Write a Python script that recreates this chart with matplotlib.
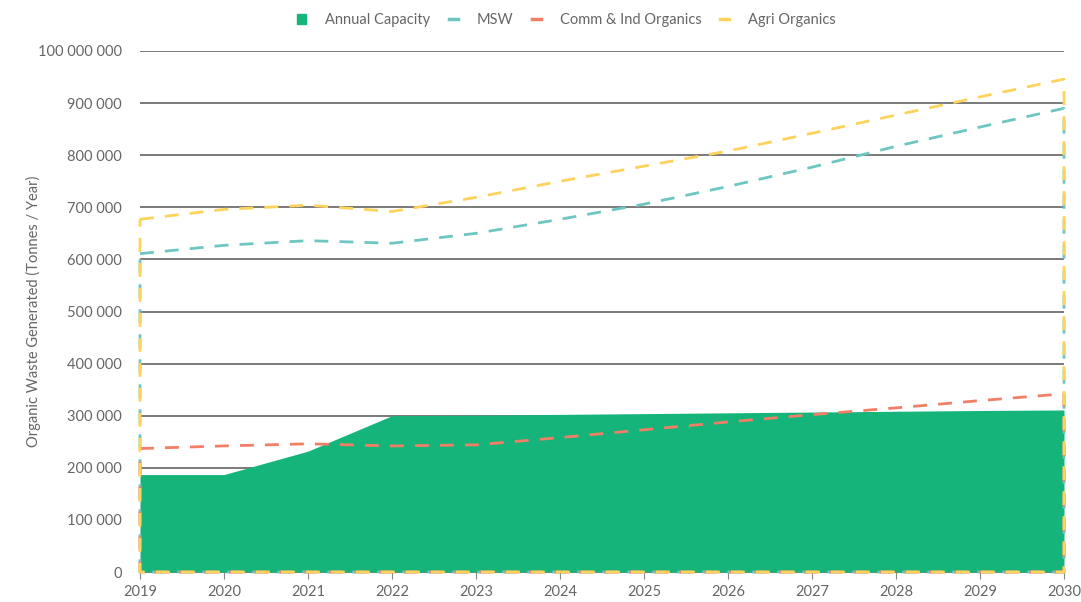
import matplotlib.pyplot as plt
from matplotlib.lines import Line2D
from matplotlib.patches import Patch

plt.rcParams['font.family'] = ['Lato', 'DejaVu Sans']

years = [2019, 2020, 2021, 2022, 2023, 2024, 2025, 2026, 2027, 2028, 2029, 2030]

# annual processing capacity (tonnes)
capacity = [187000, 187000, 232000, 300000, 301000, 302500, 304000, 305500,
            307000, 308500, 310000, 311000]
msw = [611000, 627000, 636000, 631000, 650000, 677000, 706000, 740000,
       777000, 817000, 854000, 890000]
comm_ind = [237000, 242000, 246000, 242000, 244000, 258000, 273000, 288000,
            302000, 315000, 329000, 342000]
agri = [677000, 696000, 704000, 692000, 719000, 750000, 779000, 808000,
        842000, 877000, 912000, 946000]

y_ticks = [0, 100000, 200000, 300000, 400000, 500000, 600000, 700000,
           800000, 900000, 1000000]
y_tick_labels = ['0', '100 000', '200 000', '300 000', '400 000', '500 000',
                 '600 000', '700 000', '800 000', '900 000', '100 000 000']

green = '#14b47a'
teal = '#6dc6c1'
red = '#f07f66'
yellow = '#fdd35c'
txt = '#666666'

fig = plt.figure(figsize=(10.81, 6.02), dpi=100)
ax = fig.add_axes([140 / 1081, 30 / 602, 924 / 1081, 521 / 602])

ax.fill_between(years, capacity, 0, color=green, linewidth=0, zorder=3)


def outline(vals, color):
    # closed shape down to the axis, only the outline is drawn
    xs = years + [years[-1], years[0], years[0]]
    ys = vals + [0, 0, vals[0]]
    ax.plot(xs, ys, color=color, linestyle=(0, (5, 4)), linewidth=2,
            clip_on=False, zorder=4)


outline(msw, teal)
outline(comm_ind, red)
outline(agri, yellow)

ax.set_xlim(2019, 2030)
ax.set_ylim(0, 1000000)
ax.set_xticks(years)
ax.set_xticklabels([str(y) for y in years], fontsize=10.5, color=txt)
ax.set_yticks(y_ticks)
ax.set_yticklabels(y_tick_labels, fontsize=10.5, color=txt)
ax.grid(axis='y', color='#707070', linewidth=1.3, zorder=0)
ax.set_axisbelow(True)
for s in ['top', 'right', 'left']:
    ax.spines[s].set_visible(False)
ax.spines['bottom'].set_color('#888888')
ax.tick_params(axis='y', length=0, pad=13)
ax.tick_params(axis='x', length=5, color='#888888', pad=4)
ax.set_ylabel('Organic Waste Generated (Tonnes / Year)', fontsize=10.5,
              color=txt)
ax.yaxis.set_label_coords(-0.107, 0.5)

handles = [Patch(color=green),
           Line2D([0], [0], color=teal, linewidth=2.5),
           Line2D([0], [0], color=red, linewidth=2.5),
           Line2D([0], [0], color=yellow, linewidth=2.5)]
labels = ['Annual Capacity', 'MSW', 'Comm & Ind Organics', 'Agri Organics']
fig.legend(handles, labels, loc='center', bbox_to_anchor=(0.524, 0.966),
           ncol=4, frameon=False, fontsize=10.5, labelcolor=txt,
           handlelength=0.6, handleheight=0.7, columnspacing=1.3,
           handletextpad=1.3)

fig.savefig('out.png', dpi=100)
